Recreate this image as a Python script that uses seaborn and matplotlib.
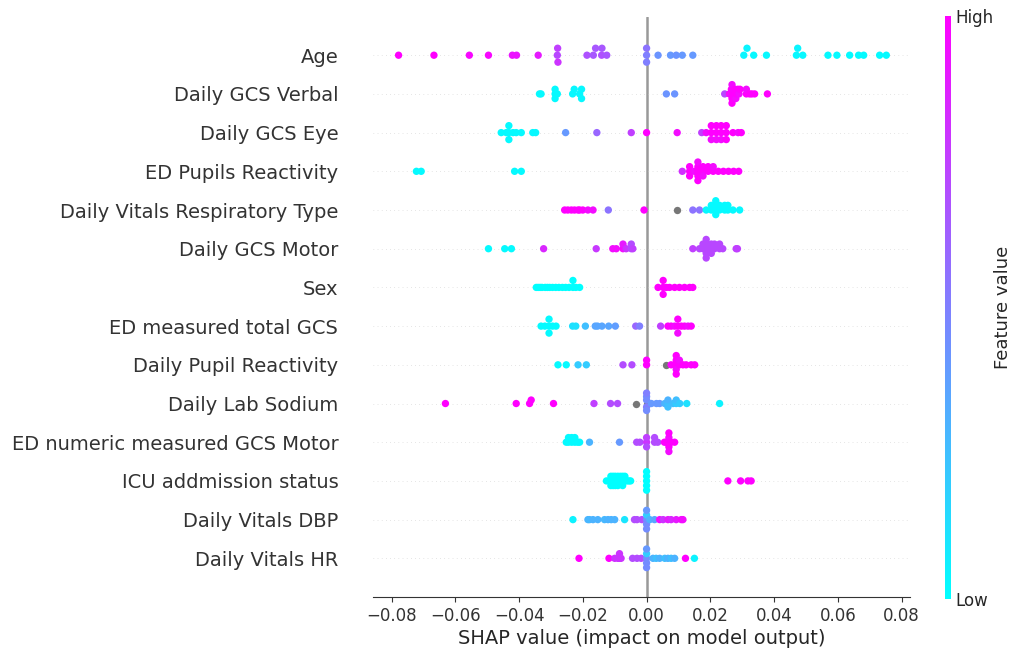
import numpy as np
import pandas as pd
import matplotlib
matplotlib.use("Agg")
import matplotlib.pyplot as plt
import seaborn as sns

# ---------------- data ----------------
features = [
    "Age", "Daily GCS Verbal", "Daily GCS Eye", "ED Pupils Reactivity",
    "Daily Vitals Respiratory Type", "Daily GCS Motor", "Sex",
    "ED measured total GCS", "Daily Pupil Reactivity", "Daily Lab Sodium",
    "ED numeric measured GCS Motor", "ICU addmission status",
    "Daily Vitals DBP", "Daily Vitals HR",
]

age_shap = [-0.0778, -0.0667, -0.0556, -0.0496, -0.0421, -0.0408, -0.0340,
            -0.0280, -0.0279, -0.0278, -0.0187, -0.0167, -0.0160, -0.0141,
            -0.0140, -0.0125, 0.0, 0.0, 0.0, 0.0036, 0.0075, 0.0093, 0.0112,
            0.0145, 0.0305, 0.0315, 0.0336, 0.0376, 0.0470, 0.0474, 0.0490,
            0.0569, 0.0597, 0.0637, 0.0665, 0.0681, 0.0731, 0.0752]
age_fval = [1.0, 1.0, 0.97, 0.97, 0.92, 0.92, 0.9,
            0.72, 0.75, 0.8, 0.68, 0.66, 0.66, 0.68,
            0.66, 0.66, 0.5, 0.55, 0.5, 0.42, 0.4, 0.42, 0.4,
            0.4, 0.04, 0.04, 0.03, 0.03, 0.03, 0.04, 0.03,
            0.02, 0.02, 0.02, 0.02, 0.02, 0.02, 0.02]

verbal_shap = [-0.0336, -0.0331, -0.0287, -0.0287, -0.0287, -0.0280, -0.0232,
               -0.0227, -0.0210, -0.0204, -0.0204, 0.0062, 0.0088, 0.0245,
               0.0260, 0.0263, 0.0266, 0.0268, 0.0268, 0.0268, 0.0271, 0.0274,
               0.0277, 0.0277, 0.0280, 0.0283, 0.0286, 0.0290, 0.0293, 0.0313,
               0.0313, 0.0323, 0.0330, 0.0339, 0.0379]
verbal_fval = [0.02, 0.02, 0.02, 0.02, 0.02, 0.02, 0.03,
               0.03, 0.03, 0.03, 0.03, 0.42, 0.42, 0.72,
               1.0, 0.95, 1.0, 1.0, 0.95, 1.0, 1.0, 0.95,
               1.0, 1.0, 0.95, 1.0, 1.0, 0.95, 1.0, 1.0,
               0.95, 1.0, 1.0, 1.0, 1.0]

eye_shap = [-0.0456, -0.0440, -0.0432, -0.0432, -0.0432, -0.0419, -0.0409,
            -0.0393, -0.0357, -0.0348, -0.0254, -0.0156, -0.0048, 0.0,
            0.0096, 0.0173, 0.0187, 0.0203, 0.0203, 0.0203, 0.0219, 0.0219,
            0.0219, 0.0234, 0.0234, 0.0234, 0.0250, 0.0250, 0.0250, 0.0271,
            0.0287, 0.0297]
eye_fval = [0.02, 0.02, 0.02, 0.02, 0.02, 0.02, 0.02,
            0.02, 0.03, 0.03, 0.4, 0.6, 0.75, 1.0,
            0.95, 0.75, 0.95, 1.0, 1.0, 0.95, 1.0, 1.0,
            0.95, 1.0, 1.0, 0.95, 1.0, 1.0, 1.0, 1.0,
            0.95, 1.0]

edpupil_shap = [-0.0722, -0.0707, -0.0414, -0.0393, 0.0112, 0.0135, 0.0135,
                0.0135, 0.0150, 0.0161, 0.0161, 0.0161, 0.0161, 0.0161,
                0.0177, 0.0177, 0.0177, 0.0193, 0.0193, 0.0209, 0.0209,
                0.0225, 0.0241, 0.0257, 0.0273, 0.0289]
edpupil_fval = [0.02, 0.02, 0.02, 0.02, 0.82, 1.0, 1.0,
                1.0, 0.95, 1.0, 1.0, 1.0, 0.95, 1.0,
                1.0, 1.0, 0.95, 1.0, 1.0, 1.0, 0.95,
                1.0, 1.0, 1.0, 1.0, 1.0]

resp_shap = [-0.0257, -0.0247, -0.0236, -0.0226, -0.0215, -0.0210, -0.0200,
             -0.0184, -0.0168, -0.0120, -0.0008, 0.0096, 0.0145, 0.0166,
             0.0187, 0.0203, 0.0203, 0.0217, 0.0217, 0.0217, 0.0217, 0.0229,
             0.0229, 0.0245, 0.0245, 0.0255, 0.0255, 0.0271, 0.0292]
resp_fval = [1.0, 1.0, 1.0, 1.0, 1.0, 1.0, 1.0,
             0.95, 0.95, 0.55, 1.0, None, 0.55, 0.55,
             0.03, 0.02, 0.02, 0.02, 0.02, 0.02, 0.02, 0.02,
             0.02, 0.02, 0.02, 0.02, 0.02, 0.02, 0.03]

motor_shap = [-0.0496, -0.0445, -0.0424, -0.0323, -0.0158, -0.0106, -0.0095,
              -0.0074, -0.0074, -0.0064, -0.0048, -0.0048, -0.0043, 0.0145,
              0.0166, 0.0177, 0.0177, 0.0187, 0.0187, 0.0187, 0.0187, 0.0187,
              0.0203, 0.0203, 0.0203, 0.0213, 0.0213, 0.0229, 0.0229, 0.0239,
              0.0281, 0.0285]
motor_fval = [0.02, 0.02, 0.02, 0.85, 0.78, 0.95, 0.95,
              0.95, 0.9, 0.8, 0.7, 0.7, 0.75, 0.75,
              0.72, 0.72, 0.72, 0.72, 0.72, 0.72, 0.72, 0.72,
              0.72, 0.72, 0.72, 0.72, 0.72, 0.72, 0.72, 0.72,
              0.75, 0.75]

sex_shap = [-0.0346, -0.0340, -0.0334, -0.0328, -0.0318, -0.0311, -0.0304,
            -0.0295, -0.0285, -0.0275, -0.0264, -0.0254, -0.0243, -0.0231,
            -0.0231, -0.0222, -0.0210, 0.0036, 0.0052, 0.0052, 0.0052, 0.0062,
            0.0072, 0.0088, 0.0103, 0.0119, 0.0135, 0.0145]
sex_fval = [0.0] * 17 + [1.0] * 11

edgcs_shap = [-0.0331, -0.0319, -0.0306, -0.0306, -0.0306, -0.0295, -0.0284,
              -0.0232, -0.0222, -0.0192, -0.0161, -0.0154, -0.0140, -0.0119,
              -0.0098, -0.0034, -0.0022, 0.0044, 0.0067, 0.0077, 0.0088,
              0.0098, 0.0098, 0.0098, 0.0109, 0.0119, 0.0130, 0.0140]
edgcs_fval = [0.02, 0.02, 0.02, 0.02, 0.02, 0.02, 0.02,
              0.12, 0.12, 0.25, 0.35, 0.35, 0.35, 0.35,
              0.38, 0.6, 0.5, 0.75, 1.0, 1.0, 0.95,
              1.0, 1.0, 0.95, 1.0, 1.0, 0.95, 1.0]

dpupil_shap = [-0.0278, -0.0252, -0.0215, -0.0189, -0.0074, -0.0046, 0.0,
               0.0, 0.0062, 0.0077, 0.0088, 0.0093, 0.0093, 0.0093, 0.0093,
               0.0093, 0.0103, 0.0103, 0.0114, 0.0124, 0.0140, 0.0151]
dpupil_fval = [0.02, 0.02, 0.2, 0.2, 0.7, 0.7, 1.0,
               1.0, None, 1.0, 1.0, 1.0, 1.0, 0.95, 1.0,
               1.0, 1.0, 0.95, 1.0, 1.0, 1.0, 1.0]

sodium_shap = [-0.0631, -0.0409, -0.0367, -0.0362, -0.0292, -0.0165, -0.0113,
               -0.0091, -0.0032, 0.0, 0.0, 0.0, 0.0, 0.0, 0.0, 0.0015, 0.0031,
               0.0041, 0.0057, 0.0067, 0.0067, 0.0067, 0.0083, 0.0093, 0.0093,
               0.0104, 0.0126, 0.0229]
sodium_fval = [1.0, 1.0, 1.0, 1.0, 1.0, 0.75, 0.7,
               0.7, None, None, 0.45, 0.5, 0.45, 0.45, 0.5, 0.4, 0.4,
               0.4, 0.3, 0.25, 0.3, 0.25, 0.25, 0.2, 0.25,
               0.2, 0.12, 0.05]

ednum_shap = [-0.0252, -0.0245, -0.0245, -0.0235, -0.0235, -0.0225, -0.0225,
              -0.0216, -0.0210, -0.0179, -0.0085, -0.0031, -0.0021, 0.0, 0.0,
              0.0, 0.0025, 0.0025, 0.0035, 0.0056, 0.0062, 0.0070, 0.0070,
              0.0070, 0.0070, 0.0070, 0.0077, 0.0088]
ednum_fval = [0.02, 0.02, 0.02, 0.02, 0.02, 0.02, 0.02,
              0.02, 0.02, 0.3, 0.4, 0.7, 0.7, 0.8, 0.75,
              0.7, 0.7, 0.7, 0.7, 1.0, 1.0, 1.0, 0.95,
              1.0, 1.0, 0.95, 1.0, 1.0]

icu_shap = [-0.0126, -0.0118, -0.0112, -0.0112, -0.0112, -0.0105, -0.0105,
            -0.0105, -0.0098, -0.0098, -0.0098, -0.0090, -0.0090, -0.0090,
            -0.0082, -0.0082, -0.0075, -0.0075, -0.0075, -0.0068, -0.0068,
            -0.0061, -0.0055, -0.0050, 0.0, 0.0, 0.0, 0.0, 0.0, 0.0255,
            0.0295, 0.0318, 0.0328]
icu_fval = [0.0] * 29 + [1.0] * 4

dbp_shap = [-0.0231, -0.0184, -0.0179, -0.0168, -0.0153, -0.0132, -0.0121,
            -0.0111, -0.0100, -0.0069, -0.0038, -0.0030, -0.0015, 0.0, 0.0,
            0.0, 0.0, 0.0, 0.0010, 0.0025, 0.0041, 0.0052, 0.0067, 0.0077,
            0.0093, 0.0109, 0.0114]
dbp_fval = [0.05, 0.3, 0.28, 0.3, 0.3, 0.28, 0.3,
            0.3, 0.3, 0.1, 0.7, 0.7, 0.7, 0.45, 0.2,
            0.45, 0.4, 0.45, 0.3, 0.35, 0.95, 0.8, 0.9, 0.85,
            0.9, 0.95, 0.95]

hr_shap = [-0.0212, -0.0118, -0.0100, -0.0090, -0.0085, -0.0085, -0.0080,
           -0.0044, -0.0030, -0.0017, 0.0, 0.0, 0.0, 0.0, 0.0, 0.0020,
           0.0030, 0.0041, 0.0057, 0.0067, 0.0077, 0.0088, 0.0122, 0.0150]
hr_fval = [1.0, 1.0, 0.8, 0.8, 0.8, 0.8, 0.8,
           0.7, 0.7, 0.7, 0.45, 0.2, 0.45, 0.4, 0.45, 0.3,
           0.25, 0.3, 0.25, 0.3, 0.25, 0.3, 1.0, 0.05]

shap_lists = [age_shap, verbal_shap, eye_shap, edpupil_shap, resp_shap,
              motor_shap, sex_shap, edgcs_shap, dpupil_shap, sodium_shap,
              ednum_shap, icu_shap, dbp_shap, hr_shap]
fval_lists = [age_fval, verbal_fval, eye_fval, edpupil_fval, resp_fval,
              motor_fval, sex_fval, edgcs_fval, dpupil_fval, sodium_fval,
              ednum_fval, icu_fval, dbp_fval, hr_fval]

# ---------------- beeswarm layout (SHAP-style binning) ----------------
N = len(features)
row_height = 0.4
frames = []
for i, (name, sv, fv) in enumerate(zip(features, shap_lists, fval_lists)):
    pos = N - 1 - i
    sv = np.asarray(sv, dtype=float)
    fv = np.asarray(fv, dtype=float)
    nbins = 100
    quant = np.round(nbins * (sv - sv.min()) / (sv.max() - sv.min() + 1e-8))
    inds = np.argsort(quant, kind="stable")
    layer, last_bin = 0, -1
    ys = np.zeros(len(sv))
    for ind in inds:
        if quant[ind] != last_bin:
            layer = 0
        ys[ind] = np.ceil(layer / 2) * ((layer % 2) * 2 - 1)
        layer += 1
        last_bin = quant[ind]
    ys *= 0.9 * (row_height / np.max(ys + 1))
    frames.append(pd.DataFrame({"feature": name, "shap": sv,
                                "y": pos + ys, "fval": fv}))
df = pd.concat(frames, ignore_index=True)

# ---------------- plot ----------------
sns.set_style("white")
plt.rcParams["font.family"] = ["DejaVu Sans"]
axis_color = "#333333"

fig = plt.figure(figsize=(10.11, 6.5), dpi=100)
ax = fig.add_axes([0.369, 0.0815, 0.531, 0.8931])

ax.axvline(0, color="#999999", lw=1.8, zorder=-1)
for pos in range(N):
    ax.axhline(pos, color="#cccccc", lw=0.5, dashes=(1, 5), zorder=-1)

nan_df = df[df["fval"].isna()]
val_df = df[df["fval"].notna()]
sns.scatterplot(data=nan_df, x="shap", y="y", color="#777777", s=28,
                linewidth=0, ax=ax, legend=False, zorder=3)
sns.scatterplot(data=val_df, x="shap", y="y", hue="fval", palette="cool",
                hue_norm=(0, 1), s=28, linewidth=0, ax=ax, legend=False,
                zorder=3)

ax.set_ylim(-1, N)
ax.set_yticks(range(N))
ax.set_yticklabels(features[::-1], fontsize=14)
ax.set_xticks([-0.08, -0.06, -0.04, -0.02, 0.0, 0.02, 0.04, 0.06, 0.08])
ax.set_xticklabels(["\u22120.08", "\u22120.06", "\u22120.04", "\u22120.02",
                    "0.00", "0.02", "0.04", "0.06", "0.08"])
ax.set_xlim(-0.0858, 0.0826)
ax.set_xlabel("SHAP value (impact on model output)", fontsize=14, labelpad=3)
ax.set_ylabel("")
ax.tick_params(axis="y", length=0, pad=25, colors=axis_color,
               labelcolor=axis_color)
ax.tick_params(axis="x", labelsize=12, color=axis_color,
               labelcolor=axis_color, length=3.5, bottom=True)
for sp in ["top", "right", "left"]:
    ax.spines[sp].set_visible(False)
ax.spines["bottom"].set_color(axis_color)

# colorbar
cax = fig.add_axes([0.9347, 0.0785, 0.0059, 0.8975])
sm = matplotlib.cm.ScalarMappable(cmap="cool",
                                  norm=matplotlib.colors.Normalize(0, 1))
sm.set_array([0, 1])
cb = fig.colorbar(sm, cax=cax, ticks=[0, 1])
cb.set_ticklabels(["Low", "High"])
cb.set_label("Feature value", size=13, labelpad=0)
cb.ax.tick_params(labelsize=12, length=0)
cb.outline.set_visible(False)

fig.savefig("out.png", dpi=100)
